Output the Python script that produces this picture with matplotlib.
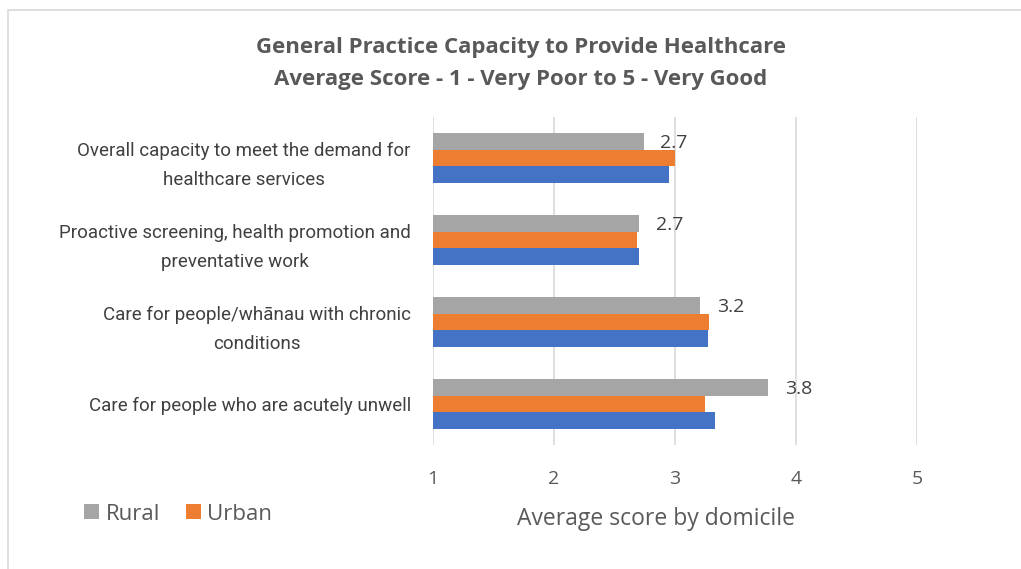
import matplotlib
matplotlib.use("Agg")
import matplotlib.pyplot as plt
import numpy as np
from matplotlib.patches import Rectangle

categories = [
    "Overall capacity to meet the demand for\nhealthcare services",
    "Proactive screening, health promotion and\npreventative work",
    "Care for people/wh\u0101nau with chronic\nconditions",
    "Care for people who are acutely unwell",
]
rural = [2.74, 2.70, 3.21, 3.77]
urban = [3.00, 2.69, 3.28, 3.25]
total = [2.95, 2.70, 3.27, 3.33]
xticks = [1, 2, 3, 4, 5]

GREY, ORANGE, BLUE = "#A5A5A5", "#ED7D31", "#4472C4"
TXT = "#595959"
plt.rcParams["font.family"] = ["Open Sans", "DejaVu Sans"]

fig = plt.figure(figsize=(10.21, 5.69), dpi=100)
ax = fig.add_axes([433 / 1021, 1 - 445 / 569, (917 - 433) / 1021, (445 - 117) / 569])

# chart frame
fig.patches.append(Rectangle((8 / 1021, -0.05), 1.1, 1 - 10 / 569 + 0.05,
                             transform=fig.transFigure, fill=False,
                             edgecolor="#D9D9D9", lw=1.2))

y = np.arange(len(categories))
h = 0.207
b_rural = ax.barh(y - h, np.array(rural) - 1, left=1, height=h, color=GREY, label="Rural")
b_urban = ax.barh(y, np.array(urban) - 1, left=1, height=h, color=ORANGE, label="Urban")
ax.barh(y + h, np.array(total) - 1, left=1, height=h, color=BLUE)

for yi, v in zip(y, rural):
    ax.text(v + 0.14, yi - h, f"{v:.1f}", va="center_baseline", ha="left",
            fontsize=14, color="#404040")

ax.set_xlim(1, 5)
ax.set_ylim(3.5, -0.5)
ax.set_xticks(xticks)
ax.set_yticks(y)
ax.set_yticklabels(categories, fontsize=13.5, color="#404040",
                   family=["Roboto", "DejaVu Sans"],
                   multialignment="center", linespacing=1.75)
ax.tick_params(axis="y", length=0, pad=16)
ax.tick_params(axis="x", length=0, pad=18, labelsize=14, labelcolor=TXT)
ax.grid(axis="x", color="#D9D9D9", lw=1.2)
ax.set_axisbelow(True)
for s in ax.spines.values():
    s.set_visible(False)

ax.set_xlabel("Average score by domicile", fontsize=16.5, color=TXT, va="center")
ax.xaxis.set_label_coords((656 - 433) / 484, (445 - 519) / 328)

fig.text(521 / 1021, 1 - 48 / 569, "General Practice Capacity to Provide Healthcare",
         ha="center", va="center", fontsize=16, fontweight="bold", color=TXT)
fig.text(521 / 1021, 1 - 80 / 569, "Average Score - 1 - Very Poor to 5 - Very Good",
         ha="center", va="center", fontsize=16, fontweight="bold", color=TXT)

fig.legend(handles=[b_rural, b_urban], loc="center left",
           bbox_to_anchor=(84 / 1021, 1 - 514 / 569), ncol=2, frameon=False,
           borderpad=0, borderaxespad=0,
           fontsize=16, labelcolor=TXT, handlelength=0.68, handleheight=0.68,
           handletextpad=0.3, columnspacing=1.15)

fig.savefig("out.png", dpi=100, facecolor="white")
